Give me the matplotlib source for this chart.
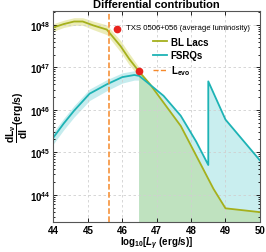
import numpy as np
import matplotlib.pyplot as plt
from matplotlib.lines import Line2D

plt.rcParams['font.family'] = ['Liberation Sans', 'DejaVu Sans']
plt.rcParams['mathtext.fontset'] = 'custom'
plt.rcParams['mathtext.rm'] = 'Liberation Sans'
plt.rcParams['mathtext.bf'] = 'Liberation Sans:bold'
plt.rcParams['mathtext.it'] = 'Liberation Sans:italic:bold'

# BL Lacs (log10 L, log10 dL/dl)
bl_x = [44.0, 44.3, 44.6, 44.85, 45.15, 45.55, 45.95, 46.2, 46.49, 46.8, 47.2, 47.7, 48.15, 48.65, 49.0, 50.0]
bl_y = [47.94, 48.02, 48.08, 48.08, 47.99, 47.89, 47.5, 47.2, 46.9, 46.61, 46.17, 45.62, 44.92, 44.14, 43.68, 43.59]
# uncertainty band for BL Lacs (only up to the break)
bl_band_x = [44.0, 44.3, 44.6, 44.85, 45.15, 45.55, 45.95, 46.2, 46.49]
bl_band_lo = [47.85, 47.94, 47.99, 47.99, 47.89, 47.77, 47.36, 47.06, 46.79]
bl_band_hi = [48.03, 48.11, 48.17, 48.17, 48.09, 48.0, 47.63, 47.33, 47.0]

# FSRQs
fs_x = [44.0, 44.3, 44.6, 45.05, 45.55, 46.0, 46.35, 46.49, 46.75, 47.2, 47.7, 48.15, 48.5, 48.5, 49.0, 50.0]
fs_y = [45.35, 45.68, 45.98, 46.38, 46.6, 46.77, 46.82, 46.8, 46.63, 46.33, 45.86, 45.25, 44.7, 46.67, 45.77, 44.81]
fs_band_x = [44.0, 44.3, 44.6, 45.05, 45.55, 46.0, 46.35, 46.49]
fs_band_lo = [45.2, 45.53, 45.83, 46.22, 46.45, 46.63, 46.7, 46.7]
fs_band_hi = [45.48, 45.8, 46.1, 46.49, 46.71, 46.87, 46.92, 46.9]

l_evo = 45.6
l_break = 46.49
txs = (45.86, 47.91)
cross_pt = (46.49, 46.91)

bl_col = '#a5b01c'
fs_col = '#1db3b5'
or_col = '#f5892a'

fig = plt.figure(figsize=(2.66, 2.53), dpi=100)
ax = fig.add_axes([0.201, 0.119, 0.776, 0.834])

bx = np.array(bl_x); by = 10 ** np.array(bl_y)
fx = np.array(fs_x); fy = 10 ** np.array(fs_y)

ax.fill_between(bl_band_x, 10 ** np.array(bl_band_lo), 10 ** np.array(bl_band_hi),
                color='#dfe08a', alpha=0.6, lw=0)
ax.fill_between(fs_band_x, 10 ** np.array(fs_band_lo), 10 ** np.array(fs_band_hi),
                color='#9fe0e3', alpha=0.6, lw=0)

m = fx >= l_break
ax.fill_between(fx[m], 1e40, fy[m], color='#c9eeef', lw=0)
m2 = bx >= l_break
ax.fill_between(bx[m2], 1e40, by[m2], color='#bfe2bf', lw=0)

ax.plot(bx, by, color=bl_col, lw=1.3)
ax.plot(fx, fy, color=fs_col, lw=1.3)
ax.axvline(l_evo, color=or_col, ls='--', lw=1.1)

ax.plot(txs[0], 10 ** txs[1], 'o', color='#e8231d', ms=4.5)
ax.plot(cross_pt[0], 10 ** cross_pt[1], 'o', color='#e8231d', ms=4.5, zorder=5)
ax.text(46.12, 10 ** 47.93, 'TXS 0506+056 (average luminosity)', fontsize=5.6,
        va='center', ha='left')

handles = [Line2D([], [], color=bl_col, lw=1.3),
           Line2D([], [], color=fs_col, lw=1.3),
           Line2D([], [], color=or_col, lw=1.0, ls='--')]
ax.legend(handles, ['BL Lacs', 'FSRQs', r'L$_{\mathbf{evo}}$'], loc='upper left',
          bbox_to_anchor=(0.44, 0.92), frameon=False, handlelength=1.4,
          handletextpad=0.4, labelspacing=0.35,
          prop={'size': 7, 'weight': 'bold'})

ax.set_yscale('log')
ax.set_xlim(44, 50)
ax.set_ylim(10 ** 43.36, 10 ** 48.33)
ax.set_xticks([44, 45, 46, 47, 48, 49, 50])
ax.set_yticks([1e44, 1e45, 1e46, 1e47, 1e48])
ax.grid(True, ls=(0, (3, 3)), color='#d0d0d0', lw=0.6)
ax.tick_params(direction='in', which='both', top=True, right=True, labelsize=7,
               length=3, width=0.6, pad=2)
ax.tick_params(which='minor', length=1.5)
for lab in ax.get_xticklabels() + ax.get_yticklabels():
    lab.set_fontweight('bold')
for s in ax.spines.values():
    s.set_color('#555555')
    s.set_linewidth(0.8)

ax.set_title('Differential contribution', fontsize=8, fontweight='bold', pad=3)
ax.set_xlabel(r'log$_{\mathbf{10}}$[$L_\gamma$ (erg/s)]', fontsize=7, fontweight='bold', labelpad=0)
ax.set_ylabel(r'$\mathbf{\dfrac{dL_\nu}{dl}}$(erg/s)', fontsize=7.5, fontweight='bold', labelpad=0)

fig.savefig('out.png', dpi=100)
